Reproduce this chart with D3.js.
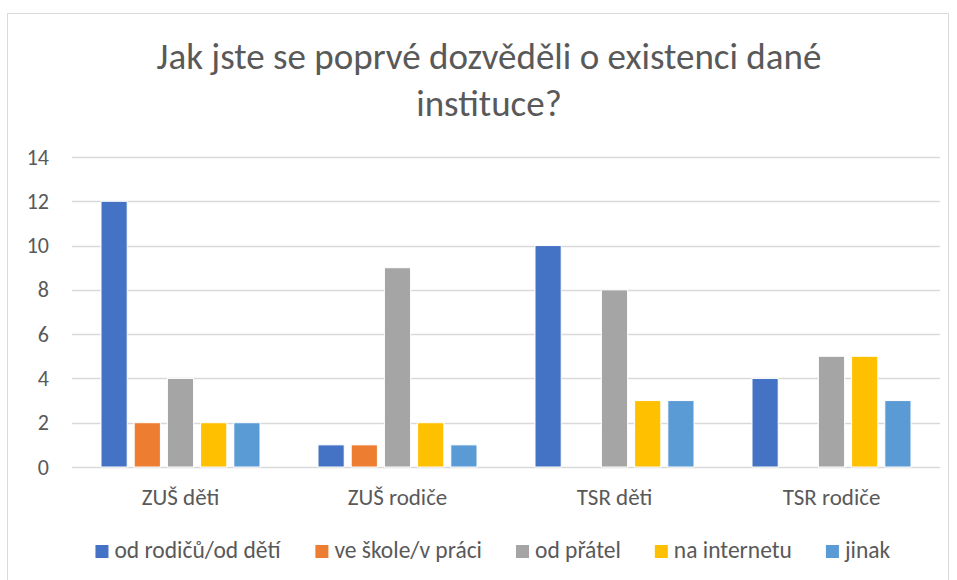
<!DOCTYPE html>
<html>
<head>
<meta charset="utf-8">
<script src="https://cdn.jsdelivr.net/npm/d3@7"></script>
<style>
  body { margin: 0; background: #fff; }
  text { font-family: Carlito, Calibri, Lato, sans-serif; fill: #595959; }
</style>
</head>
<body>
<div id="wrapper"></div>
<script>
// data
const categories = ['ZUŠ děti', 'ZUŠ rodiče', 'TSR děti', 'TSR rodiče'];
const seriesNames = ['od rodičů/od dětí', 've škole/v práci', 'od přátel', 'na internetu', 'jinak'];
const odRodicu = [12, 1, 10, 4];
const veSkole = [2, 1, 0, 0];
const odPratel = [4, 9, 8, 5];
const naInternetu = [2, 2, 3, 5];
const jinak = [2, 1, 3, 3];
const yTicks = [0, 2, 4, 6, 8, 10, 12, 14];
const colors = ['#4472c4', '#ed7d31', '#a5a5a5', '#ffc000', '#5b9bd5'];

const allSeries = [odRodicu, veSkole, odPratel, naInternetu, jinak];

const width = 957;
const height = 580;
const barGap = 7;

let dimensions = {
    width: width,
    height: height,
    margin: { top: 157, right: 17, bottom: 113, left: 72 }
};
dimensions.boundedW = dimensions.width - dimensions.margin.left - dimensions.margin.right;
dimensions.boundedH = dimensions.height - dimensions.margin.top - dimensions.margin.bottom;

const wrapper = d3.select('#wrapper')
    .append('svg')
    .attr('width', dimensions.width)
    .attr('height', dimensions.height);

// chart border (bottom edge runs off the picture)
wrapper.append('rect')
    .attr('x', 7.5).attr('y', 13.5)
    .attr('width', 941).attr('height', 600)
    .attr('fill', 'none')
    .attr('stroke', '#d9d9d9');

// title
const title = wrapper.append('text')
    .attr('text-anchor', 'middle')
    .style('font-size', '37px');
title.append('tspan').attr('x', 489).attr('y', 69).text('Jak jste se poprvé dozvěděli o existenci dané');
title.append('tspan').attr('x', 489).attr('y', 116).text('instituce?');

const bounds = wrapper.append('g')
    .attr('transform', `translate(${dimensions.margin.left}, ${dimensions.margin.top})`);

// scales
const x0 = d3.scaleBand()
    .domain(categories)
    .range([0, dimensions.boundedW])
    .paddingInner(0.235)
    .paddingOuter(0.1175);

const x1 = d3.scaleBand()
    .domain(seriesNames)
    .range([0, x0.bandwidth()])
    .padding(0);

const y = d3.scaleLinear()
    .domain([0, 14])
    .range([dimensions.boundedH, 0]);

// gridlines
bounds.selectAll('.grid')
    .data(yTicks)
    .enter()
    .append('line')
    .attr('x1', 0)
    .attr('x2', dimensions.boundedW)
    .attr('y1', d => Math.round(y(d)) + 0.5)
    .attr('y2', d => Math.round(y(d)) + 0.5)
    .style('stroke', '#d9d9d9')
    .style('stroke-width', 1.3);

// y labels
const yAxis = d3.axisLeft(y).tickValues(yTicks).tickSize(0).tickPadding(23);
const yG = bounds.append('g').call(yAxis);
yG.select('.domain').remove();
yG.selectAll('text')
    .style('font-size', '22px')
    .style('font-family', 'Carlito, Calibri, Lato, sans-serif')
    .attr('fill', '#595959');

// bars
const groups = bounds.selectAll('.group')
    .data(categories)
    .enter()
    .append('g')
    .attr('transform', d => `translate(${x0(d)}, 0)`);

groups.selectAll('rect')
    .data((c, i) => seriesNames.map((s, j) => ({ s: s, v: allSeries[j][i], c: colors[j] })))
    .enter()
    .append('rect')
    .filter(d => d.v > 0)
    .attr('x', d => x1(d.s) + barGap / 2)
    .attr('y', d => y(d.v))
    .attr('width', x1.bandwidth() - barGap)
    .attr('height', d => y(0) - y(d.v))
    .attr('fill', d => d.c)
    .attr('stroke', '#fff')
    .attr('stroke-width', 1);

// category labels
const xAxis = d3.axisBottom(x0).tickSize(0);
const xG = bounds.append('g')
    .attr('transform', `translate(0, ${dimensions.boundedH})`)
    .call(xAxis);
xG.select('.domain').remove();
xG.selectAll('text')
    .attr('y', 38)
    .attr('dy', 0)
    .style('font-size', '23px')
    .style('font-family', 'Carlito, Calibri, Lato, sans-serif')
    .attr('fill', '#595959');

// legend
const legend = wrapper.append('g');
const legendItems = legend.selectAll('g')
    .data(seriesNames)
    .enter()
    .append('g');
legendItems.append('rect')
    .attr('width', 13).attr('height', 13)
    .attr('y', -13)
    .attr('fill', (d, i) => colors[i]);
legendItems.append('text')
    .attr('x', 19)
    .style('font-size', '23.5px')
    .text(d => d);

let cursor = 0;
legendItems.each(function () {
    const w = this.getBBox().width;
    d3.select(this).attr('transform', `translate(${cursor}, 0)`);
    cursor += w + 34;
});
const legendW = cursor - 34;
legend.attr('transform', `translate(${493 - legendW / 2}, 558)`);
</script>
</body>
</html>
